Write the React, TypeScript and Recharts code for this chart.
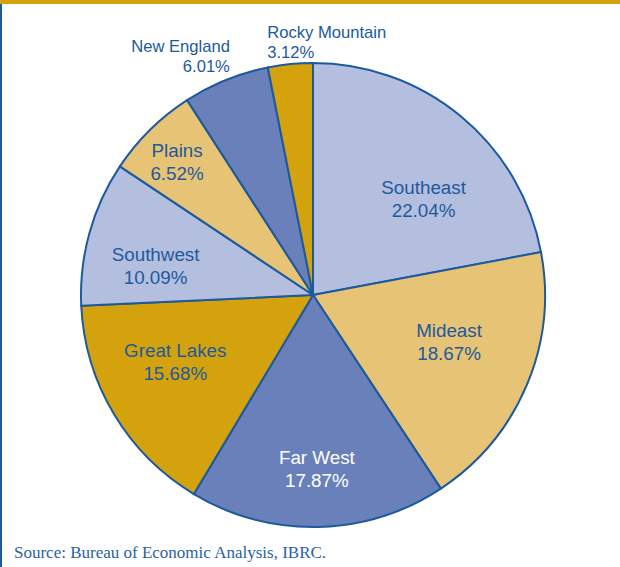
import React from 'react';
import { PieChart, Pie, Cell } from 'recharts';

const regions = ['Southeast', 'Mideast', 'Far West', 'Great Lakes', 'Southwest', 'Plains', 'New England', 'Rocky Mountain'];
const shares = [22.04, 18.67, 17.87, 15.68, 10.09, 6.52, 6.01, 3.12];

const GOLD = '#d4a20c';
const LIGHT_GOLD = '#e6c375';
const LIGHT_BLUE = '#b4bfdf';
const MID_BLUE = '#6a80ba';
const INK = '#1d5a9d';

const fills = [LIGHT_BLUE, LIGHT_GOLD, MID_BLUE, GOLD, LIGHT_BLUE, LIGHT_GOLD, MID_BLUE, GOLD];

// label placement: radius as share of outer radius, small angle nudge in degrees
const labelLayout = [
  { r: 0.63, shift: -9.5 },
  { r: 0.62, shift: 4 },
  { r: 0.75, shift: 0 },
  { r: 0.66, shift: -5 },
  { r: 0.69, shift: 5 },
  { r: 0.82, shift: 1 },
];

const RADIAN = Math.PI / 180;

const renderLabel = (props: any) => {
  const { cx, cy, midAngle, outerRadius, index, name, value } = props;
  const pct = `${Number(value).toFixed(2)}%`;
  const font = 'Liberation Sans, Arial, sans-serif';

  if (index >= 6) {
    // outside labels for the two thin slices
    const ex = cx + outerRadius * Math.cos(-midAngle * RADIAN);
    const ey = cy + outerRadius * Math.sin(-midAngle * RADIAN);
    const isNE = name === 'New England';
    const x = isNE ? ex + 4 : ex - 23;
    const y1 = isNE ? ey - 28 : ey - 26;
    return (
      <text x={x} y={y1} textAnchor={isNE ? 'end' : 'start'} fill={INK} fontSize={16.6} fontFamily={font}>
        <tspan x={x}>{name}</tspan>
        <tspan x={x} dy={20}>{pct}</tspan>
      </text>
    );
  }

  const lay = labelLayout[index];
  const ang = (midAngle + lay.shift) * RADIAN;
  const rr = outerRadius * lay.r;
  const x = cx + rr * Math.cos(-ang);
  const y = cy + rr * Math.sin(-ang);
  const color = name === 'Far West' ? '#ffffff' : INK;
  return (
    <text x={x} y={y - 5} textAnchor="middle" fill={color} fontSize={18.8} fontFamily={font}>
      <tspan x={x}>{name}</tspan>
      <tspan x={x} dy={23}>{pct}</tspan>
    </text>
  );
};

export default function App() {
  const data = regions.map((name, i) => ({ name, value: shares[i] }));

  return (
    <div style={{ position: 'absolute', left: 0, top: 0, width: 620, height: 567, background: '#fff', overflow: 'hidden' }}>
      <div style={{ position: 'absolute', left: 0, top: 0, width: 620, height: 4, background: GOLD }} />
      <div style={{ position: 'absolute', left: 0, top: 4, width: 2, height: 563, background: INK }} />
      <PieChart width={620} height={567} margin={{ top: 0, right: 0, bottom: 0, left: 0 }}>
        <Pie
          data={data}
          dataKey="value"
          nameKey="name"
          cx={313}
          cy={295}
          outerRadius={232}
          startAngle={90}
          endAngle={-270}
          stroke={INK}
          strokeWidth={2}
          label={renderLabel}
          labelLine={false}
          isAnimationActive={false}
        >
          {data.map((d, i) => (
            <Cell key={d.name} fill={fills[i]} />
          ))}
        </Pie>
      </PieChart>
      <div
        style={{
          position: 'absolute',
          left: 14,
          top: 543,
          fontFamily: 'Liberation Serif, Times New Roman, serif',
          fontSize: 17,
          color: '#2a62a5',
          whiteSpace: 'nowrap',
        }}
      >
        Source: Bureau of Economic Analysis, IBRC.
      </div>
    </div>
  );
}
